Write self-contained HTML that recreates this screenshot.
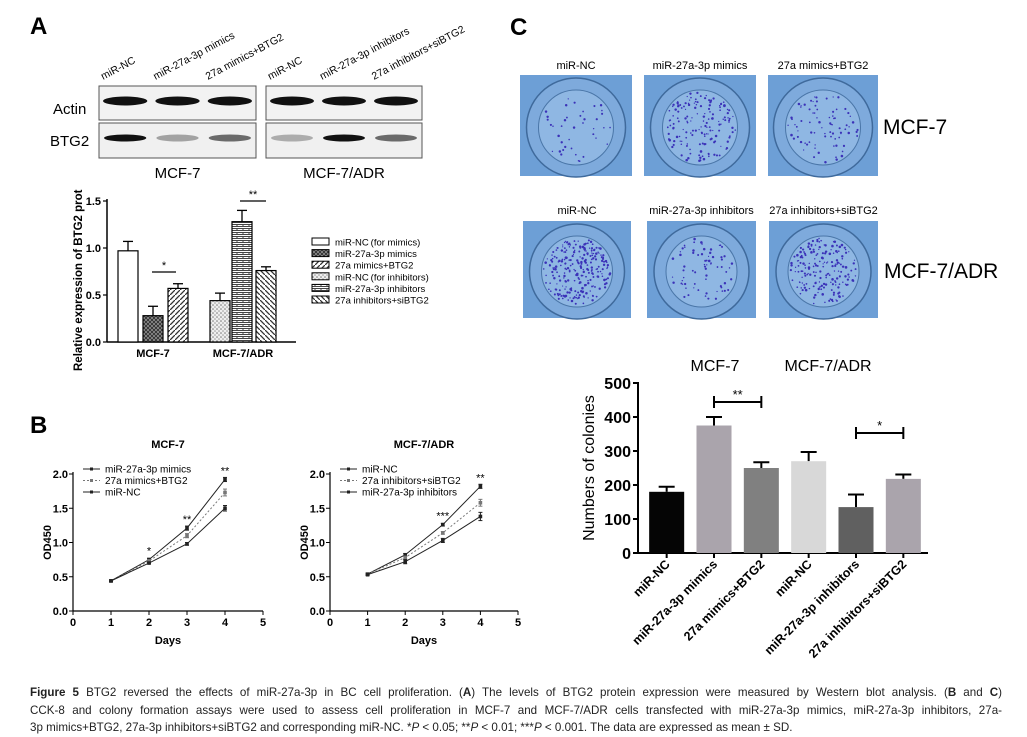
<!DOCTYPE html>
<html><head><meta charset="utf-8">
<style>
body{margin:0;background:#fff;width:1027px;height:736px;overflow:hidden;font-family:"Liberation Sans",Arial,sans-serif;}
.cap{position:absolute;left:30px;top:684px;width:972px;font-size:11.6px;line-height:17.5px;color:#222;white-space:nowrap;}
.cap .j{text-align:justify;text-align-last:justify;}
</style></head><body>
<svg id="fig" width="1027" height="736" style="position:absolute;left:0;top:0" font-family="Liberation Sans, Arial, sans-serif">
<defs>
<pattern id="pCross" width="4" height="4" patternUnits="userSpaceOnUse"><rect width="4" height="4" fill="#999"/><path d="M0 0L4 4M4 0L0 4" stroke="#333" stroke-width="1"/></pattern>
<pattern id="pDiag" width="5" height="5" patternUnits="userSpaceOnUse"><rect width="5" height="5" fill="#fff"/><path d="M0 5L5 0" stroke="#333" stroke-width="1.3"/></pattern>
<pattern id="pDots" width="4" height="4" patternUnits="userSpaceOnUse"><rect width="4" height="4" fill="#eee"/><circle cx="1" cy="1" r="0.8" fill="#777"/><circle cx="3" cy="3" r="0.8" fill="#999"/></pattern>
<pattern id="pBrick" width="6" height="4" patternUnits="userSpaceOnUse"><rect width="6" height="4" fill="#fff"/><path d="M0 0.5H6M0 2.5H6M3 0.5V2.5" stroke="#444" stroke-width="1"/></pattern>
<pattern id="pBack" width="5" height="5" patternUnits="userSpaceOnUse"><rect width="5" height="5" fill="#fff"/><path d="M0 0L5 5" stroke="#333" stroke-width="1.3"/></pattern>
</defs>
<g id="blot"></g>
<g id="chartA"></g>
<g id="chartB1"></g>
<g id="chartB2"></g>
<g id="colonyImgs"></g>
<g id="chartC"></g>
</svg>
<div class="cap"><div class="j"><b>Figure 5</b> BTG2 reversed the effects of miR-27a-3p in BC cell proliferation. (<b>A</b>) The levels of BTG2 protein expression were measured by Western blot analysis. (<b>B</b> and <b>C</b>)</div><div class="j">CCK-8 and colony formation assays were used to assess cell proliferation in MCF-7 and MCF-7/ADR cells transfected with miR-27a-3p mimics, miR-27a-3p inhibitors, 27a-</div><div>3p mimics+BTG2, 27a-3p inhibitors+siBTG2 and corresponding miR-NC. *<i>P</i> &lt; 0.05; **<i>P</i> &lt; 0.01; ***<i>P</i> &lt; 0.001. The data are expressed as mean ± SD.</div></div>
<script>
// ---- Panel A data ----
const aGroups = ["MCF-7","MCF-7/ADR"];
const aLabels = ["miR-NC\u2009(for mimics)","miR-27a-3p mimics","27a mimics+BTG2","miR-NC\u2009(for inhibitors)","miR-27a-3p inhibitors","27a inhibitors+siBTG2"];
const aValues = [0.97,0.28,0.57,0.44,1.28,0.76];
const aErrors = [0.10,0.10,0.05,0.08,0.12,0.04];
const aTicks = [0,0.5,1.0,1.5];
// ---- Panel B data ----
const bDays = [1,2,3,4];
const bXTicks = [0,1,2,3,4,5];
const bYTicks = [0,0.5,1.0,1.5,2.0];
const b1Names = ["miR-27a-3p mimics","27a mimics+BTG2","miR-NC"];
const b1Mimics = [0.44,0.75,1.21,1.92];
const b1Btg2 = [0.44,0.73,1.10,1.73];
const b1Nc = [0.44,0.70,0.98,1.50];
const b1Err = [[0.01,0.02,0.03,0.03],[0.01,0.02,0.03,0.05],[0.01,0.01,0.02,0.04]];
const b1Stars = ["","*","**","**"];
const b2Names = ["miR-NC","27a inhibitors+siBTG2","miR-27a-3p inhibitors"];
const b2Nc = [0.54,0.82,1.26,1.82];
const b2Si = [0.54,0.78,1.14,1.58];
const b2Inh = [0.53,0.72,1.03,1.38];
const b2Err = [[0.01,0.02,0.02,0.03],[0.01,0.02,0.02,0.05],[0.01,0.03,0.03,0.06]];
const b2Stars = ["","","***","**"];
// ---- Panel C data ----
const cCats = ["miR-NC","miR-27a-3p mimics","27a mimics+BTG2","miR-NC","miR-27a-3p inhibitors","27a inhibitors+siBTG2"];
const cValues = [180,375,250,270,135,218];
const cErrors = [15,25,17,27,37,13];
const cTicks = [0,100,200,300,400,500];
const cColors = ["#050505","#aaa4ac","#808080","#d8d8d8","#606060","#aaa4ac"];

const NS="http://www.w3.org/2000/svg";
function mk(parent,tag,attrs,text){const e=document.createElementNS(NS,tag);for(const k in attrs)e.setAttribute(k,attrs[k]);if(text!==undefined)e.textContent=text;parent.appendChild(e);return e;}

const fig=document.getElementById('fig');
let t;
t=mk(fig,'text',{x:30,y:34,'font-size':24,'font-weight':'bold'},'A');

t=mk(fig,'text',{x:30,y:433,'font-size':24,'font-weight':'bold'},'B');

t=mk(fig,'text',{x:510,y:35,'font-size':24,'font-weight':'bold'},'C');


// ========== Western blot ==========
(function(){
const g=document.getElementById('blot');
const boxes=[[99,256],[266,422]];
const colLabels=[["miR-NC","miR-27a-3p mimics","27a mimics+BTG2"],["miR-NC","miR-27a-3p inhibitors","27a inhibitors+siBTG2"]];
const actinW=[[1,1,1],[1,1,1]], btgW=[[1,0.35,0.6],[0.3,1,0.6]];
boxes.forEach((b,i)=>{
  const [x0,x1]=b; const w=x1-x0;
  let r=mk(g,'rect',{x:x0,y:86,width:w,height:34,fill:'#f2f2f2',stroke:'#555','stroke-width':1});
  
  r=mk(g,'rect',{x:x0,y:123,width:w,height:35,fill:'#f0f0f0',stroke:'#555','stroke-width':1});
  
  for(let k=0;k<3;k++){
    const cx=x0+w*(k+0.5)/3;
    let e=mk(g,'ellipse',{cx:cx,cy:101,rx:w/6-4,ry:4.5,fill:'#111',opacity:actinW[i][k]});
    
    e=mk(g,'ellipse',{cx:cx,cy:138,rx:w/6-5,ry:3.5,fill:'#111',opacity:btgW[i][k]});
    
    const lx=x0+w*(k+0.5)/3-22;
    e=mk(g,'text',{x:lx,y:80,'font-size':10.5,transform:`rotate(-28 ${lx} 80)`},colLabels[i][k]);
    
  }
  t=mk(g,'text',{x:(x0+x1)/2,y:178,'font-size':15,'text-anchor':'middle'},i?'MCF-7/ADR':'MCF-7');
  
});
t=mk(g,'text',{x:53,y:114,'font-size':15},'Actin');

t=mk(g,'text',{x:50,y:146,'font-size':15},'BTG2');

})();

// ========== Panel A bar chart ==========
(function(){
const g=document.getElementById('chartA');
const X0=107,X1=296,Y0=342,Y15=201;
const y=v=>Y0-(v/1.5)*(Y0-Y15);
const barX=[118,143,168,210,232,256], bw=20;
const fills=['#fff','url(#pCross)','url(#pDiag)','url(#pDots)','url(#pBrick)','url(#pBack)'];
let e=mk(g,'line',{x1:X0,y1:Y15-2,x2:X0,y2:Y0,stroke:'#000','stroke-width':1.5});

e=mk(g,'line',{x1:X0,y1:Y0,x2:X1,y2:Y0,stroke:'#000','stroke-width':1.5});

aTicks.forEach(v=>{
  mk(g,'line',{x1:X0-4,y1:y(v),x2:X0,y2:y(v),stroke:'#000','stroke-width':1.2});
  const tt=mk(g,'text',{x:X0-6,y:y(v)+4,'font-size':11,'font-weight':'bold','text-anchor':'end'},v.toFixed(1));
  
});
aValues.forEach((v,i)=>{
  const x=barX[i];
  const ex=x+bw/2, et=y(v+aErrors[i]);
  mk(g,'line',{x1:ex,y1:y(v),x2:ex,y2:et,stroke:'#000','stroke-width':1.3});
  mk(g,'line',{x1:ex-5,y1:et,x2:ex+5,y2:et,stroke:'#000','stroke-width':1.3});
  const r=mk(g,'rect',{x:x,y:y(v),width:bw,height:Y0-y(v),fill:fills[i],stroke:'#000','stroke-width':1.2});
  
});
aGroups.forEach((gname,i)=>{
  t=mk(g,'text',{x:(barX[i*3]+barX[i*3+2]+bw)/2,y:357,'font-size':11,'font-weight':'bold','text-anchor':'middle'},gname);
  
});
mk(g,'line',{x1:152,y1:272,x2:176,y2:272,stroke:'#000','stroke-width':1.2});
t=mk(g,'text',{x:164,y:269,'font-size':11,'text-anchor':'middle'},'*');
mk(g,'line',{x1:240,y1:201,x2:266,y2:201,stroke:'#000','stroke-width':1.2});
t=mk(g,'text',{x:253,y:198,'font-size':11,'text-anchor':'middle'},'**');
t=mk(g,'text',{x:0,y:0,'font-size':11.5,'font-weight':'bold','text-anchor':'start',transform:'translate(82,371) rotate(-90)'},'Relative expression of BTG2 prot');

aLabels.forEach((l,i)=>{
  const ly=242+i*11.6;
  const r=mk(g,'rect',{x:312,y:ly-4,width:17,height:7,fill:fills[i],stroke:'#000','stroke-width':1});
  
  const tt=mk(g,'text',{x:335,y:ly+3.5,'font-size':9.5},l);
  
});
})();

// ========== Panel B line charts ==========
function lineChart(id,X0,X5,title,series,errs,names,stars){
const g=document.getElementById(id);
const Y0=611,Y2=474;
const x=d=>X0+d*(X5-X0)/5, y=v=>Y0-v/2*(Y0-Y2);
let e=mk(g,'line',{x1:X0,y1:Y2-2,x2:X0,y2:Y0,stroke:'#000','stroke-width':1.2});

e=mk(g,'line',{x1:X0,y1:Y0,x2:X5,y2:Y0,stroke:'#000','stroke-width':1.2});

bYTicks.forEach(v=>{mk(g,'line',{x1:X0-4,y1:y(v),x2:X0,y2:y(v),stroke:'#000'});
  const tt=mk(g,'text',{x:X0-5,y:y(v)+4,'font-size':11,'font-weight':'bold','text-anchor':'end'},v.toFixed(1));
  });
bXTicks.forEach(d=>{mk(g,'line',{x1:x(d),y1:Y0,x2:x(d),y2:Y0+4,stroke:'#000'});
  const tt=mk(g,'text',{x:x(d),y:Y0+15,'font-size':11,'font-weight':'bold','text-anchor':'middle'},d);
  });
t=mk(g,'text',{x:(X0+X5)/2,y:Y2-26,'font-size':11,'font-weight':'bold','text-anchor':'middle'},title);

t=mk(g,'text',{x:(X0+X5)/2,y:Y0+33,'font-size':11,'font-weight':'bold','text-anchor':'middle'},'Days');

t=mk(g,'text',{x:0,y:0,'font-size':11,'font-weight':'bold','text-anchor':'middle',transform:`translate(${X0-22},${(Y0+Y2)/2}) rotate(-90)`},'OD450');

const styles=[{c:'#222',d:''},{c:'#777',d:'2,2'},{c:'#222',d:''}];
series.forEach((s,si)=>{
  const pts=bDays.map((d,i)=>x(d)+','+y(s[i])).join(' ');
  const pl=mk(g,'polyline',{points:pts,fill:'none',stroke:styles[si].c,'stroke-width':1,'stroke-dasharray':styles[si].d});
  
  bDays.forEach((d,i)=>{
    const px=x(d),py=y(s[i]),ee=errs[si][i];
    mk(g,'line',{x1:px,y1:y(s[i]-ee),x2:px,y2:y(s[i]+ee),stroke:styles[si].c,'stroke-width':1});
    mk(g,'line',{x1:px-2,y1:y(s[i]+ee),x2:px+2,y2:y(s[i]+ee),stroke:styles[si].c});
    mk(g,'line',{x1:px-2,y1:y(s[i]-ee),x2:px+2,y2:y(s[i]-ee),stroke:styles[si].c});
    const m=mk(g,'rect',{x:px-1.8,y:py-1.8,width:3.6,height:3.6,fill:styles[si].c});
    
  });
});
bDays.forEach((d,i)=>{ if(stars[i]){ const top=Math.max(...series.map(s=>s[i]));
  const tt=mk(g,'text',{x:x(d),y:y(top)-5,'font-size':11,'text-anchor':'middle'},stars[i]);
  }});
names.forEach((n,i)=>{
  const ly=469+i*11.5;
  mk(g,'line',{x1:X0+10,y1:ly,x2:X0+27,y2:ly,stroke:styles[i].c,'stroke-dasharray':styles[i].d});
  mk(g,'rect',{x:X0+17,y:ly-1.5,width:3,height:3,fill:styles[i].c});
  const tt=mk(g,'text',{x:X0+32,y:ly+3.5,'font-size':10},n);
  
});
}
lineChart('chartB1',73,263,'MCF-7',[b1Mimics,b1Btg2,b1Nc],b1Err,b1Names,b1Stars);
lineChart('chartB2',330,518,'MCF-7/ADR',[b2Nc,b2Si,b2Inh],b2Err,b2Names,b2Stars);

// ========== Colony images ==========
(function(){
const g=document.getElementById('colonyImgs');
const imgs=[[520,75,112,101,40],[644,75,112,101,160],[768,75,110,101,80],[523,221,108,97,260],[647,221,109,97,70],[769,221,109,97,190]];
const labels=["miR-NC","miR-27a-3p mimics","27a mimics+BTG2","miR-NC","miR-27a-3p inhibitors","27a inhibitors+siBTG2"];
let seed=7;const rnd=()=>{seed=(seed*16807)%2147483647;return seed/2147483647;};
imgs.forEach((im,i)=>{
  const [x,y,w,h,n]=im;
  const r=mk(g,'rect',{x:x,y:y,width:w,height:h,fill:'#6d9fd6'});
  
  const cx=x+w/2,cy=y+h/2+2,R=Math.min(w,h)/2;
  mk(g,'circle',{cx:cx,cy:cy,r:R-1,fill:'#7eaadc',stroke:'#3f6a9c','stroke-width':1.5});
  mk(g,'circle',{cx:cx,cy:cy,r:R-13,fill:'#8fb7e3',stroke:'#4a76a8','stroke-width':1});
  for(let k=0;k<n;k++){const a=rnd()*6.283,rr=Math.sqrt(rnd())*(R-15);
    mk(g,'circle',{cx:cx+rr*Math.cos(a),cy:cy+rr*Math.sin(a),r:0.6+rnd()*0.7,fill:'#3b32b8'});}
  const tt=mk(g,'text',{x:cx,y:i<3?69:214,'font-size':11,'text-anchor':'middle'},labels[i]);
  
});
t=mk(g,'text',{x:883,y:134,'font-size':21},'MCF-7');
t=mk(g,'text',{x:884,y:278,'font-size':21},'MCF-7/ADR');
})();

// ========== Panel C bar chart ==========
(function(){
const g=document.getElementById('chartC');
const X0=638,X1=928,Y0=553,Y500=383;
const y=v=>Y0-v/500*(Y0-Y500);
const step=(X1-X0-6)/6, bw=step*0.74;
const cx=i=>X0+5+step*(i+0.5);
let e=mk(g,'line',{x1:X0,y1:Y500-1,x2:X0,y2:Y0,stroke:'#000','stroke-width':2});

e=mk(g,'line',{x1:X0,y1:Y0,x2:X1,y2:Y0,stroke:'#000','stroke-width':2});

cTicks.forEach(v=>{mk(g,'line',{x1:X0-5,y1:y(v),x2:X0,y2:y(v),stroke:'#000','stroke-width':2});
  const tt=mk(g,'text',{x:X0-7,y:y(v)+6,'font-size':16,'font-weight':'bold','text-anchor':'end'},v);
  });
cValues.forEach((v,i)=>{
  const x=cx(i);
  mk(g,'line',{x1:x,y1:y(v),x2:x,y2:y(v+cErrors[i]),stroke:'#000','stroke-width':2});
  mk(g,'line',{x1:x-8,y1:y(v+cErrors[i]),x2:x+8,y2:y(v+cErrors[i]),stroke:'#000','stroke-width':2});
  const r=mk(g,'rect',{x:x-bw/2,y:y(v),width:bw,height:Y0-y(v),fill:cColors[i]});
  
  mk(g,'line',{x1:x,y1:Y0,x2:x,y2:Y0+5,stroke:'#000','stroke-width':2});
  const tt=mk(g,'text',{x:x+4,y:Y0+12,'font-size':12.5,'font-weight':'bold','text-anchor':'end',transform:`rotate(-45 ${x+4} ${Y0+12})`},cCats[i]);
  
});
t=mk(g,'text',{x:0,y:0,'font-size':16,'text-anchor':'middle',transform:`translate(594,468) rotate(-90)`},'Numbers of colonies');

t=mk(g,'text',{x:715,y:371,'font-size':16,'text-anchor':'middle'},'MCF-7');
t=mk(g,'text',{x:828,y:371,'font-size':16,'text-anchor':'middle'},'MCF-7/ADR');
[[1,2,402,'**'],[4,5,433,'*']].forEach(s=>{
  const a=cx(s[0]),b=cx(s[1]);
  mk(g,'line',{x1:a,y1:s[2],x2:b,y2:s[2],stroke:'#000','stroke-width':2});
  mk(g,'line',{x1:a,y1:s[2]-6,x2:a,y2:s[2]+6,stroke:'#000','stroke-width':2});
  mk(g,'line',{x1:b,y1:s[2]-6,x2:b,y2:s[2]+6,stroke:'#000','stroke-width':2});
  const tt=mk(g,'text',{x:(a+b)/2,y:s[2]-3,'font-size':13,'text-anchor':'middle'},s[3]);
  
});
})();
</script>
</body></html>
